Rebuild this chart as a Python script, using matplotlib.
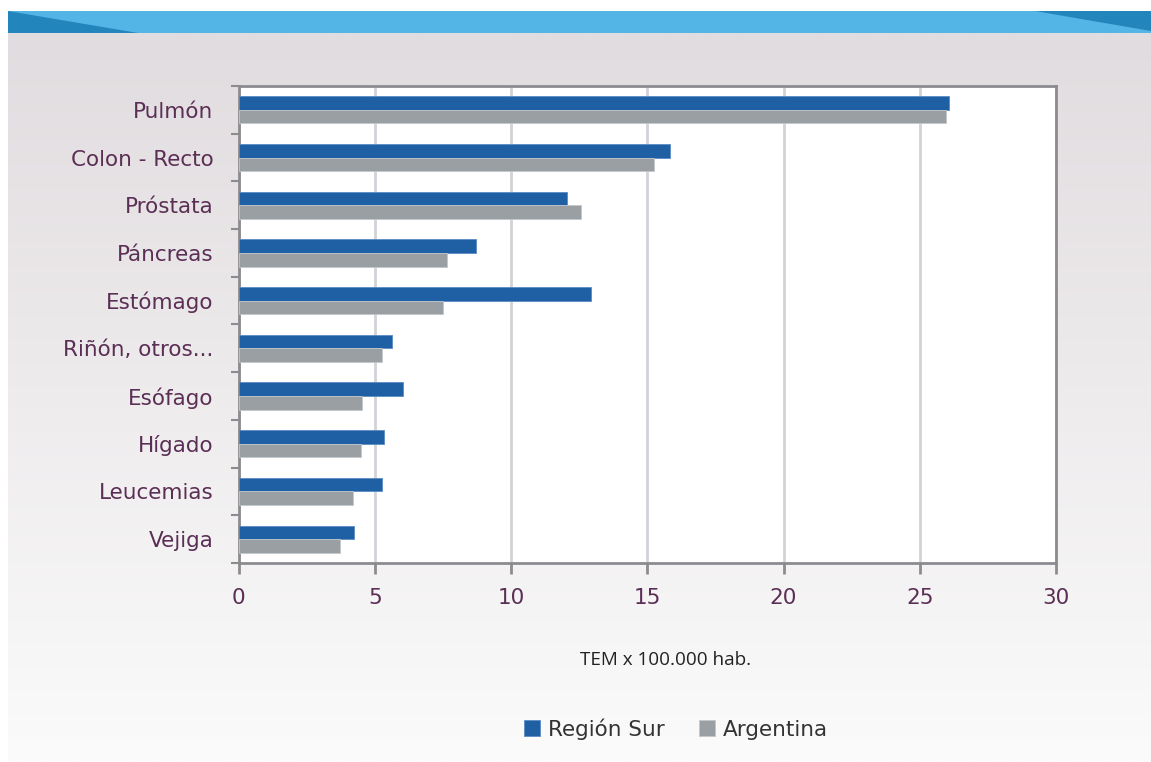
import numpy as np
import matplotlib.pyplot as plt
from matplotlib.patches import Polygon, Rectangle

# tasas por tipo de cáncer
categorias = ['Pulmón', 'Colon - Recto', 'Próstata', 'Páncreas', 'Estómago',
              'Riñón, otros...', 'Esófago', 'Hígado', 'Leucemias', 'Vejiga']
region_sur = [26.08, 15.83, 12.04, 8.72, 12.94, 5.63, 6.02, 5.35, 5.28, 4.23]
argentina = [25.95, 15.26, 12.57, 7.65, 7.51, 5.27, 4.52, 4.50, 4.19, 3.74]
xticks = [0, 5, 10, 15, 20, 25, 30]

W, H = 1151, 762
azul = '#1F5FA3'
gris = '#9A9FA4'
texto = '#5B2E55'
borde = '#8C8C90'
fs = 15.5

plt.rcParams['font.family'] = ['DejaVu Sans']

fig = plt.figure(figsize=(W / 100, H / 100), dpi=100)

# fondo de la diapositiva
bg = fig.add_axes([0, 0, 1, 1])
bg.set_xlim(0, W)
bg.set_ylim(H, 0)
bg.axis('off')
top = np.array([225, 220, 223]) / 255
bot = np.array([251, 251, 251]) / 255
t = np.linspace(0, 1, 256)[:, None]
grad = (top * (1 - t) + bot * t)[:, None, :]
bg.imshow(grad, extent=[8, W, H, 33], aspect='auto', interpolation='bilinear')
bg.add_patch(Rectangle((8, 11), W - 8, 22, color='#52B5E6', lw=0))
bg.add_patch(Polygon([(8, 11), (8, 33), (138, 33)], color='#2285BC', lw=0))
bg.add_patch(Polygon([(1035, 11), (W, 11), (W, 31)], color='#2285BC', lw=0))

ax = fig.add_axes([238.5 / W, (H - 563) / H, 817.5 / W, 477 / H])
ax.set_facecolor('white')

y = np.arange(len(categorias))
h = 0.285
ax.barh(y - h / 2, region_sur, height=h, color=azul, edgecolor='#5C8CC4', lw=0.6,
        label='Región Sur', zorder=3)
ax.barh(y + h / 2, argentina, height=h, color=gris, edgecolor='#C4C7CA', lw=0.6,
        label='Argentina', zorder=3)

ax.set_xlim(0, 30)
ax.set_ylim(len(categorias) - 0.5, -0.5)
ax.set_xticks(xticks)
ax.set_yticks(y)
ax.set_yticklabels(categorias)
ax.set_yticks(np.arange(len(categorias) + 1) - 0.5, minor=True)
ax.xaxis.grid(True, color='#D3D3D7', lw=2, zorder=0)
ax.set_axisbelow(True)

for s in ax.spines.values():
    s.set_color(borde)
    s.set_linewidth(2)

ax.tick_params(axis='y', which='major', length=0, pad=18, labelsize=fs,
               labelcolor=texto)
ax.tick_params(axis='y', which='minor', length=6, width=1.5, color=borde)
ax.tick_params(axis='x', length=8, width=2, color=borde, pad=10, labelsize=fs,
               labelcolor=texto)

fig.text(666 / W, 1 - 660 / H, 'TEM x 100.000 hab.', ha='center', va='center',
         fontsize=13.6, color='#222222', family=['Open Sans', 'DejaVu Sans'])

fig.legend(loc='center', bbox_to_anchor=(676 / W, 1 - 729 / H), ncol=2,
           frameon=False, fontsize=fs, handlelength=0.75, handleheight=0.75,
           columnspacing=1.6, handletextpad=0.35, labelcolor='#333333')

fig.savefig('out.png', dpi=100)
